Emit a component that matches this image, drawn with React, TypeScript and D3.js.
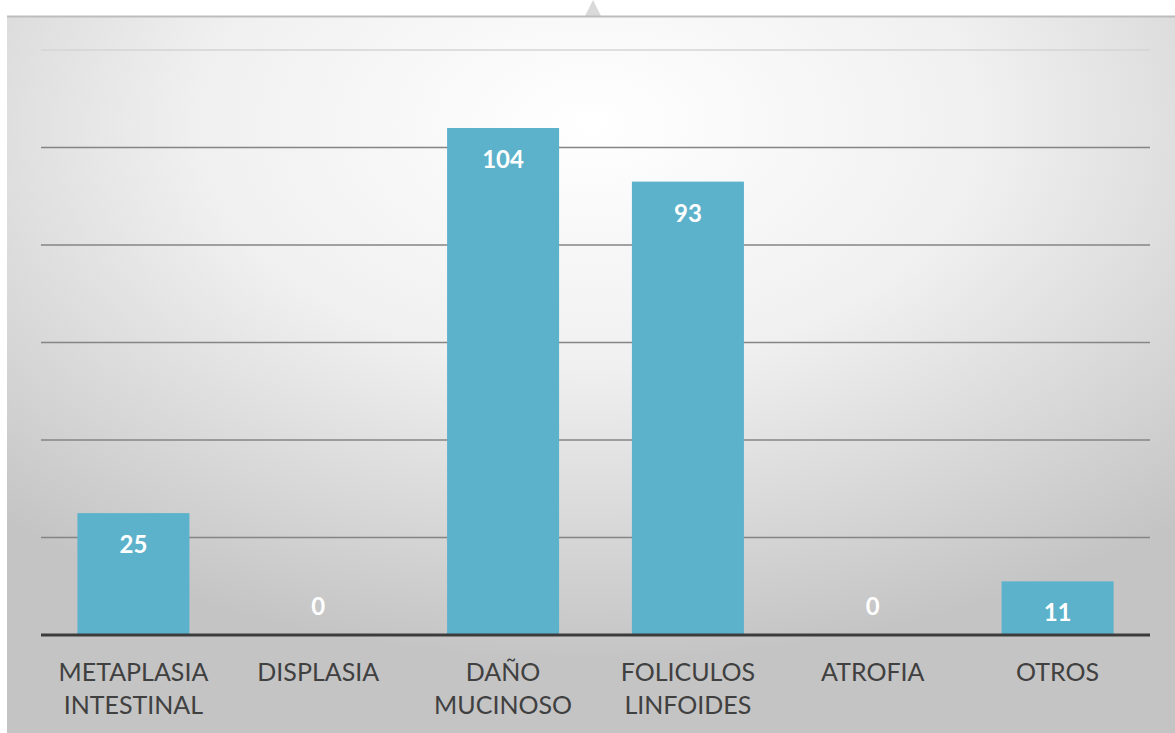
import React from "react";
import * as d3 from "d3";

const categories: string[][] = [
  ["METAPLASIA", "INTESTINAL"],
  ["DISPLASIA"],
  ["DAÑO", "MUCINOSO"],
  ["FOLICULOS", "LINFOIDES"],
  ["ATROFIA"],
  ["OTROS"],
];
const values: number[] = [25, 0, 104, 93, 0, 11];
const gridTicks: number[] = [20, 40, 60, 80, 100, 120];

const W = 1175;
const H = 733;
const plotLeft = 41;
const plotRight = 1150;
const baseY = 635;
const topY = 50;

export default function App() {
  const x = d3
    .scaleBand<number>()
    .domain(values.map((_, i) => i))
    .range([plotLeft, plotRight])
    .paddingInner(0.394)
    .paddingOuter(0.197);
  const y = d3.scaleLinear().domain([0, 120]).range([baseY, topY]);
  const font = "Lato, 'Open Sans', 'Liberation Sans', sans-serif";

  return (
    <svg
      width={W}
      height={H}
      style={{ position: "absolute", left: 0, top: 0 }}
    >
      <defs>
        <radialGradient id="bg" cx="50%" cy="15%" r="75%" fx="50%" fy="15%">
          <stop offset="0%" stopColor="#ffffff" />
          <stop offset="45%" stopColor="#f0f0f0" />
          <stop offset="100%" stopColor="#c4c4c4" />
        </radialGradient>
      </defs>
      <rect x={0} y={0} width={W} height={H} fill="#ffffff" />
      <path d="M585,16 L593,0 L601,16 Z" fill="#d9d9d9" />
      <rect x={7} y={16} width={W - 7} height={H - 16} fill="url(#bg)" />
      <line x1={7} x2={W} y1={16.5} y2={16.5} stroke="#bdbdbd" strokeWidth={2} />
      {gridTicks.map((t) => (
        <line
          key={t}
          x1={plotLeft}
          x2={plotRight}
          y1={y(t)}
          y2={y(t)}
          stroke={t === 120 ? "#d4d4d4" : "#858585"}
          strokeWidth={1.5}
        />
      ))}
      {values.map((v, i) => (
        <rect
          key={i}
          x={x(i)}
          y={y(v)}
          width={x.bandwidth()}
          height={baseY - y(v)}
          fill="#5cb2ca"
        />
      ))}
      <line
        x1={plotLeft}
        x2={plotRight}
        y1={baseY}
        y2={baseY}
        stroke="#3c3c3c"
        strokeWidth={3}
      />
      {values.map((v, i) => (
        <text
          key={i}
          x={(x(i) as number) + x.bandwidth() / 2}
          y={v === 0 ? y(v) - 20 : y(v) + 40}
          textAnchor="middle"
          fill="#ffffff"
          fontFamily={font}
          fontWeight="bold"
          fontSize={24}
        >
          {v}
        </text>
      ))}
      {categories.map((lines, i) => (
        <text
          key={i}
          x={(x(i) as number) + x.bandwidth() / 2}
          textAnchor="middle"
          fill="#404040"
          fontFamily={font}
          fontSize={25}
        >
          {lines.map((l, j) => (
            <tspan key={j} x={(x(i) as number) + x.bandwidth() / 2} y={681 + j * 33}>
              {l}
            </tspan>
          ))}
        </text>
      ))}
    </svg>
  );
}
